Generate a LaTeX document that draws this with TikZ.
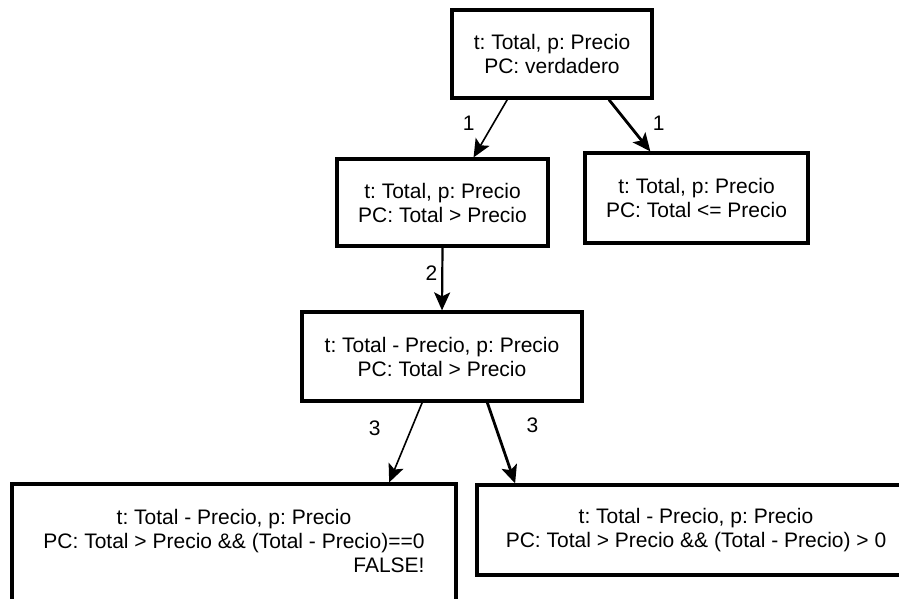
\documentclass[tikz,border=0pt]{standalone}
\usepackage{fontspec}
\setmainfont{Liberation Sans}
\usetikzlibrary{arrows.meta,calc}
\frenchspacing

\tikzset{
	caja/.style={draw, line width=3.2pt, align=center, inner sep=4pt, font=\fontsize{21}{24}\selectfont},
	flecha/.style={line width=1.6pt, -{Stealth[length=18pt,width=16pt,inset=4pt]}},
	flechagruesa/.style={flecha, line width=2.8pt},
	etiqueta/.style={font=\fontsize{21}{24}\selectfont, inner sep=0pt},
}

\begin{document}
\begin{tikzpicture}[x=1pt, y=-1pt]
	\clip (0,0) rectangle (899,599);
	\node[caja, minimum width=200pt, minimum height=88pt] (inicio) at (552,54) {t: Total, p: Precio\\PC: verdadero};
	\node[caja, minimum width=211pt, minimum height=87pt] (mayor) at (442.5,202.5) {t: Total, p: Precio\\PC: Total > Precio};
	\node[caja, minimum width=223pt, minimum height=90pt] (menorigual) at (696.5,198) {t: Total, p: Precio\\PC: Total <= Precio};
	\node[caja, minimum width=280pt, minimum height=89pt] (resta) at (442,356.5) {t: Total - Precio, p: Precio\\PC: Total > Precio};
	\node[caja, minimum width=444pt, minimum height=120pt] (igualcero) at (234,544) {\begin{tabular}{@{}c@{}}t: Total - Precio, p: Precio\\PC: Total > Precio \&\& (Total - Precio)==0\\\multicolumn{1}{@{}r@{}}{FALSE!}\end{tabular}};
	\node[caja, minimum width=438pt, minimum height=90pt] (mayorcero) at (696,530) {t: Total - Precio, p: Precio\\PC: Total > Precio \&\& (Total - Precio) > 0};
	%
	\draw[flecha] ($(inicio.south west)!0.28!(inicio.south east)$) -- node[etiqueta, pos=0.41, left=18pt] {1} ($(mayor.north west)!0.645!(mayor.north east)$);
	\draw[flechagruesa] ($(inicio.south west)!0.78!(inicio.south east)$) -- node[etiqueta, pos=0.45, right=24pt] {1} ($(menorigual.north west)!0.296!(menorigual.north east)$);
	\draw[flecha, line width=2.2pt] (mayor.south) -- node[etiqueta, pos=0.4, left=4pt] {2} (resta.north);
	\draw[flecha] ($(resta.south west)!0.43!(resta.south east)$) -- node[etiqueta, pos=0.325, left=30pt] {3} ($(igualcero.north west)!0.847!(igualcero.north east)$);
	\draw[flechagruesa] ($(resta.south west)!0.66!(resta.south east)$) -- node[etiqueta, pos=0.286, right=30pt] {3} ($(mayorcero.north west)!0.09!(mayorcero.north east)$);
\end{tikzpicture}
\end{document}
